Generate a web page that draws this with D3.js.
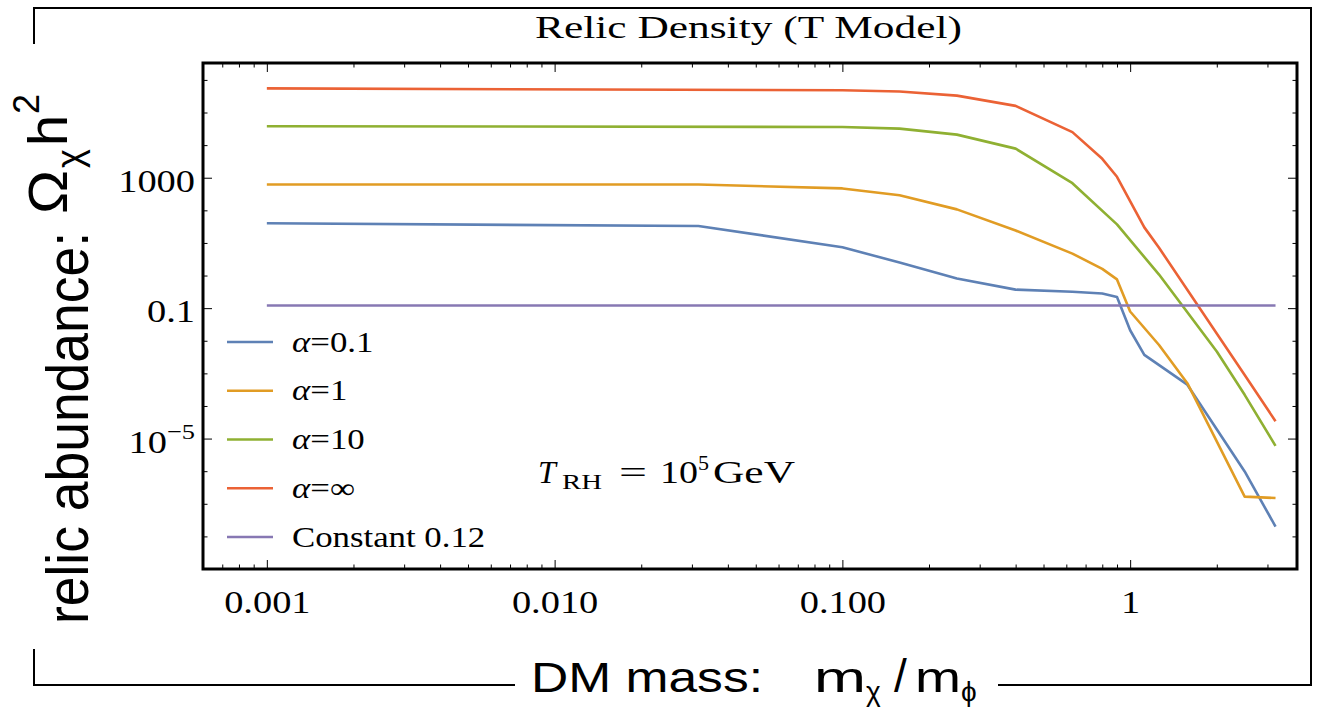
<!DOCTYPE html>
<html>
<head>
<meta charset="utf-8">
<script src="https://cdn.jsdelivr.net/npm/d3@7.9.0/dist/d3.min.js"></script>
<style>
  body { margin: 0; background: #fff; }
  svg { display: block; }
</style>
</head>
<body>
<svg id="chart" width="1322" height="720"></svg>
<script>
// relic abundance vs m_chi/m_phi (log-log)
const xBlue = [0.001, 0.0316, 0.1, 0.158, 0.25, 0.4, 0.63, 0.8, 0.9, 1.0, 1.12, 1.58, 2.5, 3.2];
const yBlue = [40, 33, 7.4, 2.5, 0.81, 0.37, 0.32, 0.28, 0.22, 0.021, 0.0037, 4.5e-4, 9.8e-7, 2.0e-8];

const xOrange = [0.001, 0.0316, 0.1, 0.158, 0.25, 0.4, 0.63, 0.8, 0.9, 1.0, 1.26, 1.58, 2.5, 3.2];
const yOrange = [620, 620, 470, 290, 107, 24, 4.7, 1.6, 0.76, 0.079, 0.0074, 5.0e-4, 1.66e-7, 1.5e-7];

const xGreen = [0.001, 0.1, 0.158, 0.25, 0.4, 0.63, 0.9, 1.26, 2.0, 2.5, 3.2];
const yGreen = [38000, 36000, 32000, 21000, 7800, 680, 37, 1.07, 0.0047, 2.2e-4, 6.0e-6];

const xRed = [0.001, 0.1, 0.158, 0.25, 0.4, 0.63, 0.8, 0.9, 1.12, 1.26, 2.5, 3.2];
const yRed = [550000, 480000, 440000, 330000, 160000, 25000, 3800, 1070, 30, 7.1, 8.9e-4, 3.4e-5];

const xConst = [0.001, 3.2];
const yConst = [0.12, 0.12];

const seriesNames = ["α=0.1", "α=1", "α=10", "α=∞", "Constant 0.12"];
const seriesColors = ["#5e81b5", "#e19c24", "#8fb032", "#eb6235", "#8778b3"];

const xMajor = [0.001, 0.01, 0.1, 1];
const xTickLabels = ["0.001", "0.010", "0.100", "1"];
const yLabeled = [1000, 0.1, 1e-5];

const series = [
    [xBlue, yBlue], [xOrange, yOrange], [xGreen, yGreen], [xRed, yRed], [xConst, yConst]
].map(([xs, ys], i) => ({
    name: seriesNames[i],
    color: seriesColors[i],
    points: xs.map((v, j) => [v, ys[j]])
}));

const serif = "'Liberation Serif', 'DejaVu Serif', serif";
const sans = "'Liberation Sans', Arial, sans-serif";

const plot = { left: 203, right: 1297, top: 63, bottom: 569 };
let svg = d3.select("#chart");

let x = d3.scaleLog().domain([0.0006, 3.8]).range([plot.left, plot.right]);
let y = d3.scaleLog().domain([1e-9, 3.3e6]).range([plot.bottom, plot.top]);

// minor ticks 2..9 in every decade inside the domain
let xMinor = [];
for (let e = -4; e <= 0; e++) {
    for (let m = 2; m <= 9; m++) {
        let v = m * Math.pow(10, e);
        if (v > x.domain()[0] && v < x.domain()[1]) xMinor.push(v);
    }
}
let yDecades = d3.range(-8, 7).map(k => Math.pow(10, k)).filter(v => !yLabeled.some(l => Math.abs(Math.log10(l / v)) < 1e-6));

function tidy(g) {
    g.select(".domain").remove();
    g.selectAll(".tick line").attr("stroke", "#000").attr("stroke-width", 1);
}

// bottom
svg.append("g").attr("transform", `translate(0,${plot.bottom})`)
    .call(d3.axisBottom(x).tickValues(xMinor).tickSize(-4.5).tickFormat(""))
    .call(tidy);
svg.append("g").attr("transform", `translate(0,${plot.bottom})`)
    .call(d3.axisBottom(x).tickValues(xMajor).tickSize(-9).tickPadding(21)
        .tickFormat((d, i) => xTickLabels[i]))
    .call(tidy)
    .call(g => g.selectAll("text")
        .attr("font-family", serif).attr("font-size", 32).attr("fill", "#000")
        .attr("transform", "scale(1.2,1)"));

// top (mirror, no labels)
svg.append("g").attr("transform", `translate(0,${plot.top})`)
    .call(d3.axisTop(x).tickValues(xMinor).tickSize(-4.5).tickFormat(""))
    .call(tidy);
svg.append("g").attr("transform", `translate(0,${plot.top})`)
    .call(d3.axisTop(x).tickValues(xMajor).tickSize(-9).tickFormat(""))
    .call(tidy);

// left
svg.append("g").attr("transform", `translate(${plot.left},0)`)
    .call(d3.axisLeft(y).tickValues(yDecades).tickSize(-4.5).tickFormat(""))
    .call(tidy);
svg.append("g").attr("transform", `translate(${plot.left},0)`)
    .call(d3.axisLeft(y).tickValues(yLabeled).tickSize(-9).tickPadding(6.7)
        .tickFormat(d => d >= 1000 ? "1000" : d >= 0.1 ? "0.1" : ""))
    .call(tidy)
    .call(g => g.selectAll("text")
        .attr("font-family", serif).attr("font-size", 32).attr("fill", "#000")
        .attr("dy", "0.42em").attr("transform", "scale(1.2,1)")
        .each(function (d) {
            if (d < 0.01) {
                let t = d3.select(this);
                t.append("tspan").text("10");
                t.append("tspan").attr("font-size", 22).attr("dy", "-0.62em").text("−5");
            }
        }));

// right (mirror)
svg.append("g").attr("transform", `translate(${plot.right},0)`)
    .call(d3.axisRight(y).tickValues(yDecades).tickSize(-4.5).tickFormat(""))
    .call(tidy);
svg.append("g").attr("transform", `translate(${plot.right},0)`)
    .call(d3.axisRight(y).tickValues(yLabeled).tickSize(-9).tickFormat(""))
    .call(tidy);

// curves
let line = d3.line().x(d => x(d[0])).y(d => y(d[1]));
svg.append("g").selectAll("path").data(series).join("path")
    .attr("d", d => line(d.points))
    .attr("fill", "none")
    .attr("stroke", d => d.color)
    .attr("stroke-width", 2.6)
    .attr("stroke-linejoin", "round");

// frame
svg.append("rect")
    .attr("x", plot.left).attr("y", plot.top)
    .attr("width", plot.right - plot.left).attr("height", plot.bottom - plot.top)
    .attr("fill", "none").attr("stroke", "#000").attr("stroke-width", 3);

// legend
let legend = svg.append("g").attr("transform", "translate(227,342)");
series.forEach((s, i) => {
    let row = legend.append("g").attr("transform", `translate(0,${i * 48.75})`);
    row.append("line").attr("x1", 0).attr("x2", 46)
        .attr("stroke", s.color).attr("stroke-width", 2.6);
    let t = row.append("text").attr("x", 65 / 1.2).attr("y", 0).attr("dy", "0.33em")
        .attr("transform", "scale(1.2,1)")
        .attr("font-family", serif).attr("font-size", 29).attr("fill", "#000");
    if (s.name.startsWith("α")) {
        t.append("tspan").attr("font-style", "italic").text("α");
        t.append("tspan").text(s.name.slice(1));
    } else {
        t.text(s.name);
    }
});

// annotation
let ann = svg.append("text").attr("y", 483)
    .attr("font-family", serif).attr("font-size", 32).attr("fill", "#000");
ann.append("tspan").attr("x", 538).attr("font-style", "italic").text("T");
ann.append("tspan").attr("x", 562).attr("dy", 6).attr("font-size", 22)
    .attr("textLength", 40).attr("lengthAdjust", "spacingAndGlyphs").text("RH");
ann.append("tspan").attr("x", 619).attr("dy", -6).attr("textLength", 28).attr("lengthAdjust", "spacingAndGlyphs").text("=");
ann.append("tspan").attr("x", 660).attr("textLength", 38).attr("lengthAdjust", "spacingAndGlyphs").text("10");
ann.append("tspan").attr("x", 698).attr("dy", -13).attr("font-size", 22).text("5");
ann.append("tspan").attr("x", 713).attr("dy", 13).attr("textLength", 82).attr("lengthAdjust", "spacingAndGlyphs").text("GeV");

// title
svg.append("text").attr("x", 535).attr("y", 38)
    .attr("font-family", serif).attr("font-size", 31).attr("fill", "#000")
    .attr("textLength", 427).attr("lengthAdjust", "spacingAndGlyphs")
    .text("Relic Density (T Model)");

// outer box with gaps for the axis titles
let box = [
    [[34, 8], [1311, 8]],
    [[1311, 8], [1311, 685]],
    [[34, 685], [514, 685]],
    [[999, 685], [1311, 685]],
    [[34, 8], [34, 43]],
    [[34, 650], [34, 685]]
];
svg.append("g").selectAll("line").data(box).join("line")
    .attr("x1", d => d[0][0]).attr("y1", d => d[0][1])
    .attr("x2", d => d[1][0]).attr("y2", d => d[1][1])
    .attr("stroke", "#000").attr("stroke-width", 2).attr("stroke-linecap", "square");

// x title
let xt = svg.append("text").attr("y", 692)
    .attr("font-family", sans).attr("font-size", 42).attr("fill", "#000");
xt.append("tspan").attr("x", 531).attr("textLength", 232).attr("lengthAdjust", "spacingAndGlyphs").text("DM mass:");
xt.append("tspan").attr("x", 814).attr("textLength", 52).attr("lengthAdjust", "spacingAndGlyphs").text("m");
xt.append("tspan").attr("x", 866).attr("dy", 9).attr("font-size", 28).text("χ");
xt.append("tspan").attr("x", 894).attr("dy", -9).attr("font-size", 46).text("/");
xt.append("tspan").attr("x", 915).attr("textLength", 46).attr("lengthAdjust", "spacingAndGlyphs").text("m");
xt.append("tspan").attr("x", 961).attr("dy", 9).attr("font-size", 28).text("ϕ");

// y title (rotated, reads upward)
let yt = svg.append("g").attr("transform", "translate(88,624) rotate(-90)")
    .attr("font-family", sans).attr("fill", "#000");
yt.append("text").attr("x", 0).attr("y", 0).attr("font-size", 60)
    .attr("textLength", 392).attr("lengthAdjust", "spacingAndGlyphs").text("relic abundance:");
yt.append("text").attr("x", 410).attr("y", -21).attr("font-size", 56)
    .attr("textLength", 44).attr("lengthAdjust", "spacingAndGlyphs").text("Ω");
yt.append("text").attr("x", 456).attr("y", -6).attr("font-size", 36).text("χ");
yt.append("text").attr("x", 478).attr("y", -21).attr("font-size", 56)
    .attr("textLength", 31).attr("lengthAdjust", "spacingAndGlyphs").text("h");
yt.append("text").attr("x", 510).attr("y", -49).attr("font-size", 36).text("2");
</script>
</body>
</html>
